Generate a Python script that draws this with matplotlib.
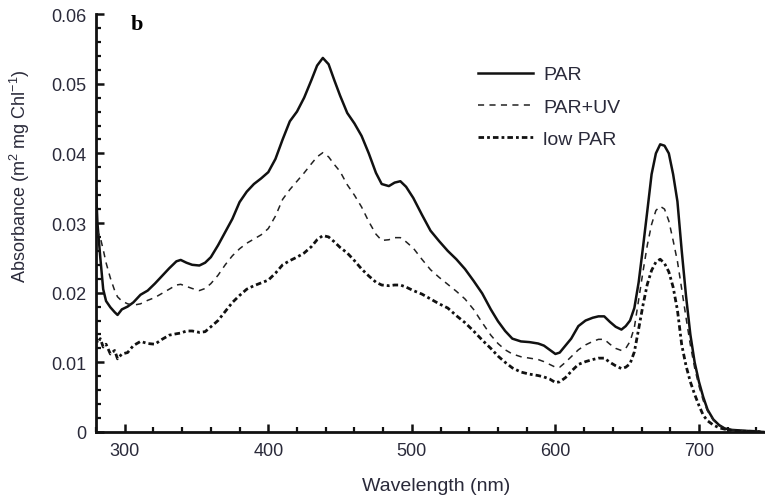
import numpy as np
import matplotlib.pyplot as plt
from matplotlib.ticker import MultipleLocator

plt.rcParams['font.family'] = ['Liberation Sans', 'DejaVu Sans']
plt.rcParams['mathtext.fontset'] = 'custom'
plt.rcParams['mathtext.rm'] = 'Liberation Sans'
plt.rcParams['mathtext.it'] = 'Liberation Sans:italic'

# wavelength (nm)
wl = [280, 281, 283, 285, 287, 290, 293, 295, 298, 302, 306, 311, 316, 321, 326,
      331, 336, 339, 343, 347, 352, 356, 360, 365, 370, 375, 380, 385, 390, 395,
      400, 405, 410, 415, 420, 425, 430, 434, 438, 442, 446, 450, 455, 460, 465,
      470, 475, 479, 484, 488, 492, 496, 501, 507, 513, 519, 525, 531, 537, 543,
      549, 555, 560, 565, 570, 576, 582, 588, 592, 596, 600, 603, 607, 611, 616,
      621, 626, 630, 634, 638, 642, 646, 649, 652, 655, 658, 661, 664, 667, 670,
      673, 676, 679, 682, 685, 688, 691, 694, 697, 700, 703, 706, 710, 714, 718,
      723, 730, 738, 745]

par = [0.0350, 0.0300, 0.0250, 0.0205, 0.0188, 0.0179, 0.0172, 0.0168, 0.0176, 0.0180,
       0.0186, 0.0197, 0.0203, 0.0213, 0.0224, 0.0235, 0.0245, 0.0247, 0.0243, 0.0240,
       0.0239, 0.0243, 0.0251, 0.0268, 0.0287, 0.0306, 0.0330, 0.0345, 0.0356, 0.0364,
       0.0373, 0.0392, 0.0420, 0.0446, 0.0460, 0.0480, 0.0505, 0.0526, 0.0537, 0.0528,
       0.0505, 0.0483, 0.0458, 0.0443, 0.0425, 0.0400, 0.0372, 0.0356, 0.0353, 0.0358,
       0.0360, 0.0352, 0.0336, 0.0312, 0.0289, 0.0274, 0.0260, 0.0248, 0.0234, 0.0217,
       0.0199, 0.0176, 0.0159, 0.0145, 0.0134, 0.0130, 0.0129, 0.0127, 0.0124, 0.0118,
       0.0112, 0.0114, 0.0124, 0.0134, 0.0152, 0.0160, 0.0164, 0.0166, 0.0166, 0.0158,
       0.0151, 0.0147, 0.0152, 0.0160, 0.0178, 0.0215, 0.0265, 0.0317, 0.0370, 0.0400,
       0.0413, 0.0411, 0.0400, 0.0370, 0.0331, 0.0260, 0.0195, 0.0140, 0.0100, 0.0072,
       0.0050, 0.0032, 0.0018, 0.0010, 0.0005, 0.0003, 0.0002, 0.0001, 0.0000]

par_uv = [0.0290, 0.0288, 0.0279, 0.0262, 0.0243, 0.0221, 0.0203, 0.0194, 0.0188, 0.0184,
          0.0182, 0.0184, 0.0189, 0.0193, 0.0199, 0.0205, 0.0211, 0.0212, 0.0209, 0.0206,
          0.0203, 0.0206, 0.0213, 0.0225, 0.0240, 0.0253, 0.0263, 0.0271, 0.0277, 0.0283,
          0.0292, 0.0310, 0.0334, 0.0348, 0.0360, 0.0372, 0.0385, 0.0395, 0.0401, 0.0395,
          0.0384, 0.0374, 0.0355, 0.0340, 0.0323, 0.0302, 0.0284, 0.0275, 0.0276, 0.0279,
          0.0279, 0.0273, 0.0264, 0.0248, 0.0233, 0.0222, 0.0212, 0.0202, 0.0191, 0.0176,
          0.0157, 0.0139, 0.0127, 0.0118, 0.0112, 0.0108, 0.0106, 0.0104, 0.0101, 0.0097,
          0.0093, 0.0093, 0.0100, 0.0108, 0.0118, 0.0125, 0.0130, 0.0133, 0.0133, 0.0126,
          0.0120, 0.0117, 0.0120, 0.0130, 0.0150, 0.0190, 0.0230, 0.0268, 0.0298, 0.0318,
          0.0324, 0.0320, 0.0303, 0.0275, 0.0245, 0.0205, 0.0164, 0.0125, 0.0092, 0.0066,
          0.0045, 0.0030, 0.0017, 0.0009, 0.0005, 0.0003, 0.0002, 0.0001, 0.0000]

low_par = [0.0136, 0.0128, 0.0134, 0.0122, 0.0126, 0.0112, 0.0117, 0.0105, 0.0112, 0.0114,
           0.0124, 0.0130, 0.0127, 0.0126, 0.0133, 0.0139, 0.0141, 0.0142, 0.0145, 0.0145,
           0.0143, 0.0144, 0.0151, 0.0160, 0.0173, 0.0186, 0.0196, 0.0205, 0.0210, 0.0214,
           0.0218, 0.0228, 0.0240, 0.0246, 0.0251, 0.0257, 0.0266, 0.0276, 0.0282, 0.0280,
           0.0273, 0.0265, 0.0257, 0.0246, 0.0234, 0.0224, 0.0215, 0.0211, 0.0210, 0.0211,
           0.0211, 0.0208, 0.0203, 0.0198, 0.0191, 0.0184, 0.0178, 0.0167, 0.0157, 0.0145,
           0.0132, 0.0120, 0.0109, 0.0100, 0.0092, 0.0086, 0.0083, 0.0081, 0.0079, 0.0076,
           0.0071, 0.0072, 0.0078, 0.0087, 0.0097, 0.0101, 0.0104, 0.0106, 0.0106, 0.0100,
           0.0095, 0.0091, 0.0093, 0.0098, 0.0115, 0.0148, 0.0182, 0.0212, 0.0232, 0.0244,
           0.0248, 0.0242, 0.0230, 0.0208, 0.0175, 0.0125, 0.0095, 0.0072, 0.0054, 0.0038,
           0.0024, 0.0016, 0.0010, 0.0006, 0.0004, 0.0002, 0.0001, 0.0001, 0.0000]

fig = plt.figure(figsize=(7.65, 5.02), dpi=100)
ax = fig.add_axes([0.1255, 0.1375, 0.8745, 0.8325])

ax.plot(wl, par, color='#111111', lw=1.8, label='PAR')
ax.plot(wl, par_uv, color='#222222', lw=1.1, ls=(0, (4, 3.5)), label='PAR+UV')
ax.plot(wl, low_par, color='#111111', lw=2.0, ls=(0, (2, 1.1, 1, 1.1)), label='low PAR')

ax.set_xlim(280, 746)
ax.set_ylim(0, 0.06)
ax.xaxis.set_major_locator(MultipleLocator(100))
ax.xaxis.set_minor_locator(MultipleLocator(20))
ax.yaxis.set_minor_locator(MultipleLocator(0.002))
ax.set_yticks(np.arange(0, 0.061, 0.01))
ax.set_yticklabels(['0', '0.01', '0.02', '0.03', '0.04', '0.05', '0.06'])

for s in ['top', 'right']:
    ax.spines[s].set_visible(False)
for s in ['left', 'bottom']:
    ax.spines[s].set_linewidth(2.0)
    ax.spines[s].set_color('#111111')

ax.tick_params(which='major', direction='in', length=6, width=1.8, labelsize=13,
               pad=7, colors='#111111', labelcolor='#2a2a3a')
ax.tick_params(which='minor', direction='in', length=3.5, width=1.6, colors='#111111')

ax.set_xlabel('Wavelength (nm)', fontsize=14, color='#2a2a3a')
ax.xaxis.set_label_coords(0.508, -0.108)
ax.set_ylabel('Absorbance (m$^2$ mg Chl$^{-1}$)', fontsize=13, color='#2a2a3a')
ax.yaxis.set_label_coords(-0.095, 0.615)

ax.text(0.052, 1.0, 'b', transform=ax.transAxes, fontsize=16, fontweight='bold',
        family='Liberation Serif', va='top', ha='left')

ax.legend(loc='upper left', bbox_to_anchor=(0.571, 0.876), frameon=False, fontsize=14,
          handlelength=2.85, handletextpad=0.5, labelspacing=0.76, borderpad=0,
          borderaxespad=0, labelcolor='#2a2a3a')

fig.savefig('out.png', dpi=100)
